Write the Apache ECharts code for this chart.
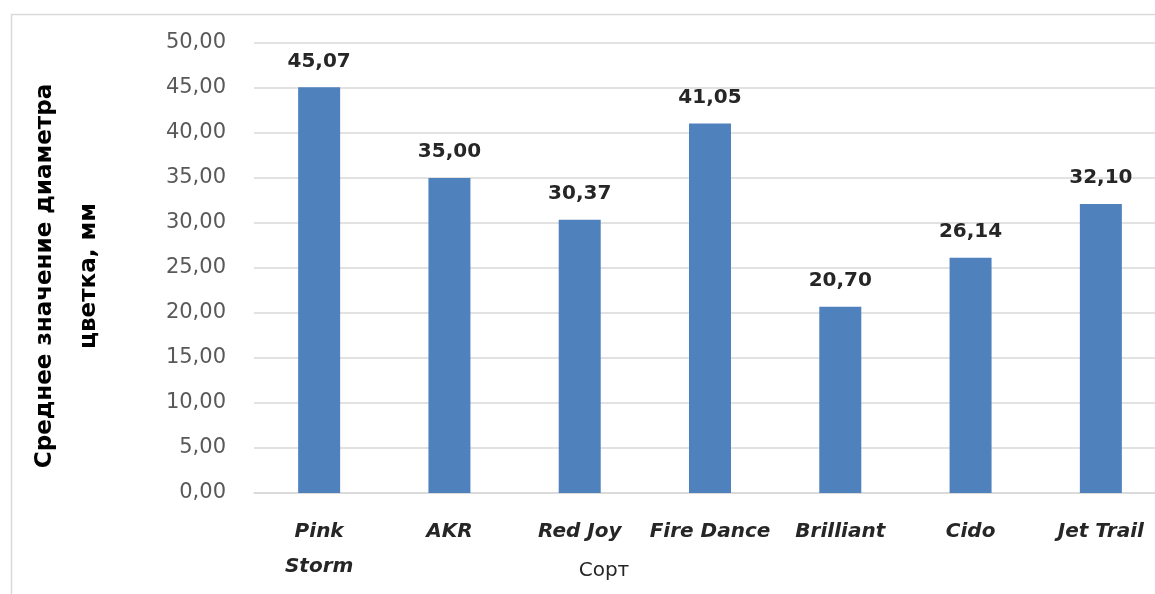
<!DOCTYPE html>
<html>
<head>
<meta charset="utf-8">
<script src="https://cdn.jsdelivr.net/npm/echarts@6/dist/echarts.min.js"></script>
<style>
html,body{margin:0;padding:0;background:#fff;}
#chart{width:1155px;height:594px;}
</style>
</head>
<body>
<div id="chart"></div>
<script>
const categories = ['Pink\nStorm', 'AKR', 'Red Joy', 'Fire Dance', 'Brilliant', 'Cido', 'Jet Trail'];
const values = [45.07, 35.00, 30.37, 41.05, 20.70, 26.14, 32.10];
const yTitle = 'Среднее значение диаметра\nцветка, мм';
const xTitle = 'Сорт';
const yMin = 0, yMax = 50, yStep = 5;

const fmt = v => v.toFixed(2).replace('.', ',');
const chart = echarts.init(document.getElementById('chart'));
chart.setOption({
  backgroundColor: '#ffffff',
  animation: false,
  graphic: [{
    type: 'rect', silent: true, z: -1,
    shape: { x: 11.5, y: 14.5, width: 1200, height: 700 },
    style: { fill: 'none', stroke: '#d9d9d9', lineWidth: 1.5 }
  }],
  grid: { left: 254, top: 43, width: 912, height: 450, outerBoundsMode: 'none', containLabel: false },
  xAxis: {
    type: 'category',
    data: categories,
    axisLine: { show: true, lineStyle: { color: '#d9d9d9', width: 1.5 } },
    axisTick: { show: false },
    axisLabel: {
      interval: 0, margin: 21, hideOverlap: false,
      fontFamily: 'DejaVu Sans', fontSize: 20, fontWeight: 'bold', fontStyle: 'italic',
      color: '#262626', lineHeight: 35
    },
    name: xTitle, nameLocation: 'middle', nameGap: 68, nameMoveOverlap: false,
    nameTextStyle: { fontFamily: 'DejaVu Sans', fontSize: 20, color: '#262626', padding: [0, 212, 0, 0] }
  },
  yAxis: {
    type: 'value', min: yMin, max: yMax, interval: yStep,
    axisLine: { show: false }, axisTick: { show: false },
    splitLine: { lineStyle: { color: '#d9d9d9', width: 1.5 } },
    axisLabel: {
      margin: 28, formatter: fmt,
      fontFamily: 'DejaVu Sans', fontSize: 21, color: '#595959'
    },
    name: yTitle, nameLocation: 'middle', nameRotate: 90, nameGap: 143, nameMoveOverlap: false,
    nameTextStyle: {
      fontFamily: 'DejaVu Sans', fontSize: 23, fontWeight: 'bold', color: '#000000',
      lineHeight: 44, align: 'center', padding: [0, 16, 0, 0]
    }
  },
  series: [{
    type: 'bar',
    data: values,
    barWidth: 42,
    itemStyle: { color: '#4f81bd' },
    label: {
      show: true, position: 'top', distance: 16, formatter: p => fmt(p.value),
      fontFamily: 'DejaVu Sans', fontSize: 20, fontWeight: 'bold', color: '#262626'
    }
  }]
});
</script>
</body>
</html>
